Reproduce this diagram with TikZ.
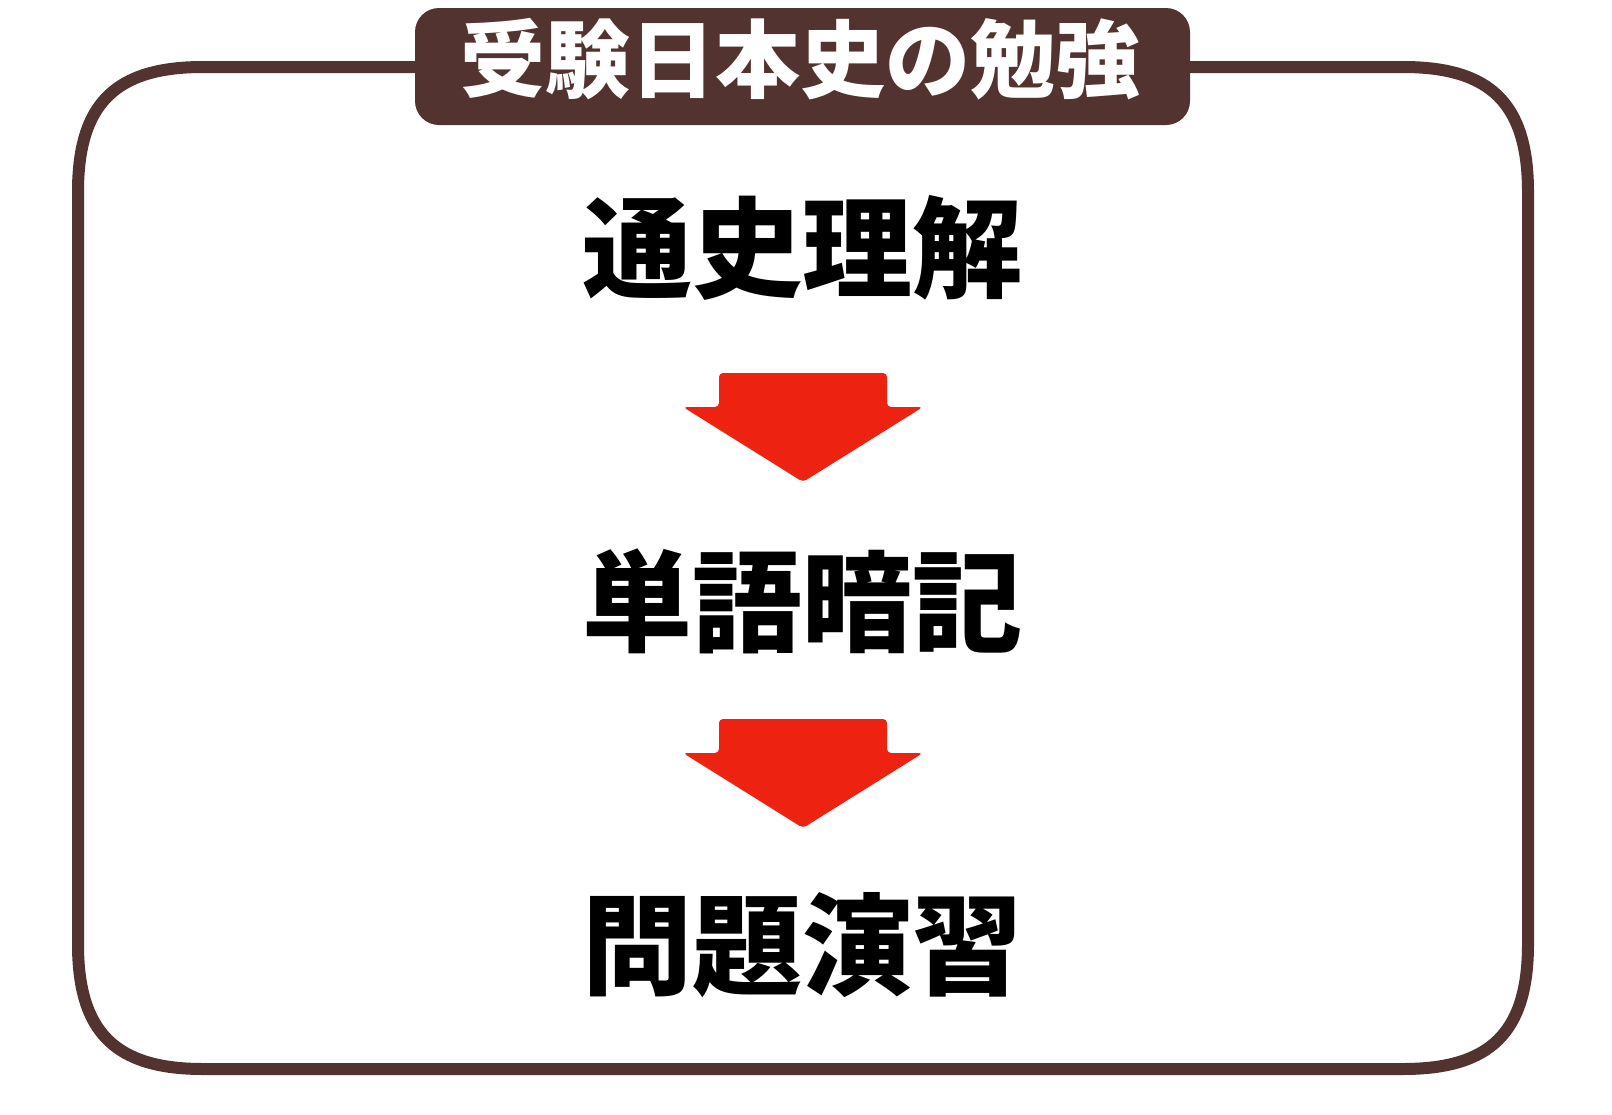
\documentclass[tikz,border=0pt]{standalone}
\usepackage{fontspec}
\newfontfamily\cjk{Noto Sans CJK JP}
\definecolor{framebrown}{HTML}{53332F}
\definecolor{arrowred}{HTML}{EE2211}
\tikzset{
	step text/.style={font=\cjk\bfseries\fontsize{55pt}{55pt}\selectfont, inner sep=0pt},
	title text/.style={font=\cjk\bfseries\fontsize{42.5pt}{42.5pt}\selectfont, text=white, inner sep=0pt},
	down arrow/.style={fill=arrowred, rounded corners=2},
}
\begin{document}
\begin{tikzpicture}[x=0.5pt,y=-0.5pt]
	\useasboundingbox (0,0) rectangle (1612,1114);
	% frame
	\draw [framebrown, line width=6pt] (78,192) .. controls (78,104) and (115,67) .. (203,67)
		-- (1403,67) .. controls (1491,67) and (1528,104) .. (1528,192)
		-- (1528,944) .. controls (1528,1032) and (1491,1069) .. (1403,1069)
		-- (203,1069) .. controls (115,1069) and (78,1032) .. (78,944) -- cycle;
	\fill [framebrown, rounded corners=12pt] (415,8) rectangle (1190,125);
	\node [title text] (title) at (800,59) {受験日本史の勉強};
	% steps
	\node [step text] (understand) at (802,248) {通史理解};
	\node [step text] (memorize) at (802,601) {単語暗記};
	\node [step text] (practice) at (802,945) {問題演習};
	% arrows
	\foreach \y in {373,719} {
		\fill [down arrow] (719,\y) -- (887,\y) -- (887,\y+34) -- (923,\y+34)
			-- (803,\y+109) -- (683,\y+34) -- (719,\y+34) -- cycle;
	}
\end{tikzpicture}
\end{document}
